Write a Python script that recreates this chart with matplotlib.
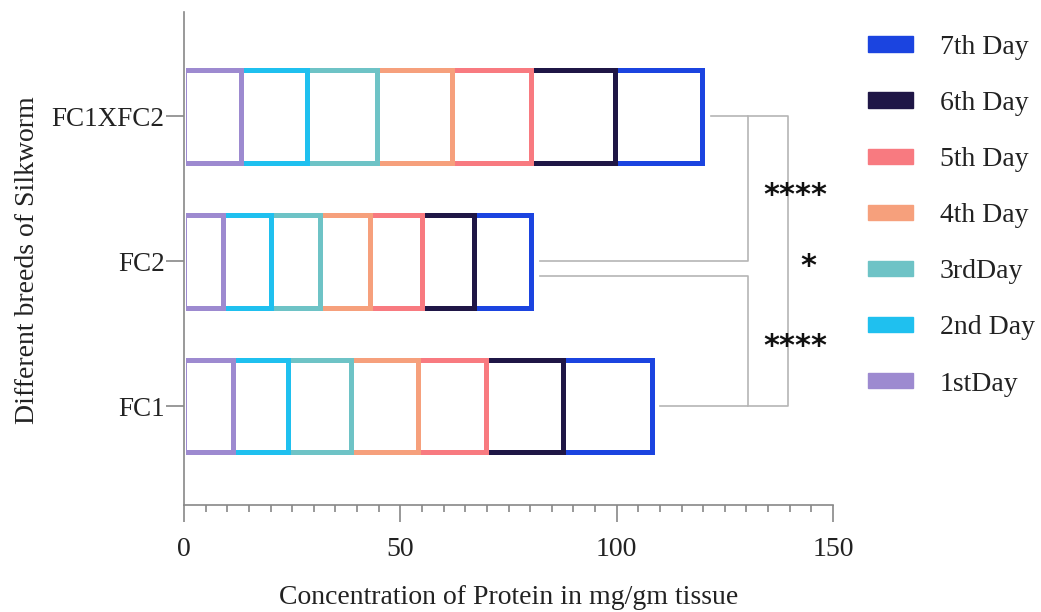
import matplotlib.pyplot as plt
import matplotlib.patches as mpatches
import numpy as np
from matplotlib.ticker import MultipleLocator
from matplotlib.transforms import Bbox, TransformedBbox

plt.rcParams['font.family'] = 'Liberation Serif'

# breeds from bottom to top
breeds = ['FC1', 'FC2', 'FC1XFC2']
days = ['1stDay', '2nd Day', '3rdDay', '4th Day', '5th Day', '6th Day', '7th Day']
colors = ['#9d8ad0', '#1fc0ef', '#6ec3c6', '#f6a07c', '#f87a80', '#1f1646', '#1b44e0']

# protein per day (mg/gm tissue)
fc1 = [11.3, 12.8, 14.5, 15.4, 15.8, 17.9, 20.4]
fc2 = [9.1, 11.0, 11.3, 11.6, 11.9, 12.1, 13.2]
fc1xfc2 = [13.1, 15.4, 16.1, 17.3, 18.2, 19.4, 20.2]

data = np.array([fc1, fc2, fc1xfc2])
lefts = np.cumsum(data, axis=1) - data
totals = data.sum(axis=1)

fig = plt.figure(figsize=(10.41, 6.12), dpi=100)
ax = fig.add_axes([0.1768, 0.1748, 0.6234, 0.8056])

y = np.arange(len(breeds))
for i in range(len(days)):
    bars = ax.barh(y, data[:, i], left=lefts[:, i], height=0.64, color='white',
                   edgecolor=colors[i], linewidth=3.6, zorder=2 - i * 0.1)
    if i == 0:
        # hide the left edge of the first segment behind the axis
        clip = TransformedBbox(Bbox([[0.55, -1], [150, 3]]), ax.transData)
        for b in bars:
            b.set_clip_box(clip)

# significance brackets
gc = '#b5b5b5'
gap = 2
ax.plot([totals[2] + gap, 130.3, 130.3, totals[1] + gap], [2, 2, 1, 1], color=gc, lw=1.2)
ax.plot([totals[1] + gap, 130.3, 130.3, totals[0] + gap], [0.9, 0.9, 0, 0], color=gc, lw=1.2)
ax.plot([130.3, 139.6, 139.6, 130.3], [2, 2, 0, 0], color=gc, lw=1.2)
star_font = dict(ha='center', va='center', fontsize=22, fontweight='bold',
                 family='DejaVu Sans', color='#111111')
ax.text(141.3, 1.45, '****', **star_font)
ax.text(144.2, 0.96, '*', **star_font)
ax.text(141.3, 0.41, '****', **star_font)

ax.set_xlim(0, 150)
ax.set_ylim(-0.683, 2.72)
ax.set_xticks([0, 50, 100, 150])
ax.xaxis.set_minor_locator(MultipleLocator(5))
ax.set_yticks(y)
ax.set_yticklabels(breeds)

ax.spines['top'].set_visible(False)
ax.spines['right'].set_visible(False)
for s in ['left', 'bottom']:
    ax.spines[s].set_color('#888888')
    ax.spines[s].set_linewidth(1.2)
ax.tick_params(axis='x', which='major', length=12, width=1.2, color='#888888',
               labelsize=20, pad=11, labelcolor='#222222')
ax.tick_params(axis='x', which='minor', length=5, width=1.2, color='#888888')
ax.tick_params(axis='y', length=13, width=1.2, color='#888888',
               labelsize=19.5, pad=1, labelcolor='#222222')

fig.text(0.4889, 1 - 597 / 612, 'Concentration of Protein in mg/gm tissue',
         ha='center', va='center', fontsize=20, color='#222222')
fig.text(28 / 1041, 1 - 260 / 612, 'Different breeds of Silkworm', rotation=90,
         ha='center', va='center', fontsize=20, color='#222222')

handles = [mpatches.Patch(color=colors[i], label=days[i]) for i in range(len(days) - 1, -1, -1)]
fig.legend(handles=handles, loc='upper left', bbox_to_anchor=(0.8338, 0.943),
           frameon=False, fontsize=20, borderpad=0, borderaxespad=0,
           handlelength=1.62, handleheight=0.47, handletextpad=0.97, labelspacing=1.12,
           labelcolor='#222222')

fig.savefig('out.png', dpi=100)
